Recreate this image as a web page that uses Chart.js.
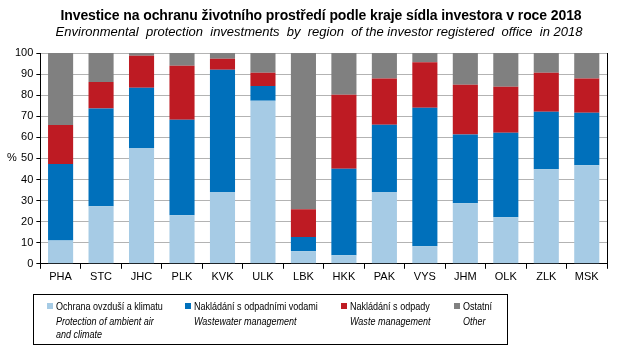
<!DOCTYPE html>
<html>
<head>
<meta charset="utf-8">
<script src="https://cdn.jsdelivr.net/npm/chart.js@4"></script>
<style>
    body { margin: 0; background: #fff; font-family: "Liberation Sans", Arial, sans-serif; }
    #wrap { position: relative; width: 622px; height: 358px; }
    #title { position: absolute; left: 20px; width: 602px; top: 7px; text-align: center; font-size: 14px; font-weight: bold; letter-spacing: -0.1px; color: #000; }
    #subtitle { position: absolute; left: 16px; width: 606px; top: 24px; text-align: center; font-size: 13px; font-style: italic; color: #000; white-space: pre; }
    #pct { position: absolute; left: 7px; top: 151px; font-size: 11px; color: #000; }
    #legend { position: absolute; left: 33px; top: 294px; width: 475px; height: 51px; border: 1px solid #000; box-sizing: border-box; font-size: 11px; color: #000; }
    .item { position: absolute; top: 5px; line-height: 13px; white-space: nowrap; }
    .txt { display: inline-block; transform: scaleX(0.82); transform-origin: left top; }
    .txt i { display: block; margin-top: 2px; }
    .sw { position: absolute; left: -9px; top: 3px; width: 6px; height: 6px; }
</style>
</head>
<body>
<div id="wrap">
    <canvas id="chart" width="622" height="358"></canvas>
    <div id="title">Investice na ochranu životního prostředí podle kraje sídla investora v roce 2018</div>
    <div id="subtitle">Environmental  protection  investments  by  region  of the investor registered  office  in 2018</div>
    <div id="pct">%</div>
    <div id="legend"></div>
</div>
<script>
// Kraje
const regions = ['PHA', 'STC', 'JHC', 'PLK', 'KVK', 'ULK', 'LBK', 'HKK', 'PAK', 'VYS', 'JHM', 'OLK', 'ZLK', 'MSK'];

// Podíly v %
const airClimate = [11.1, 27.3, 54.9, 23.0, 34.1, 77.3, 5.9, 4.0, 34.1, 8.3, 28.7, 22.1, 44.9, 46.8];
const wastewater = [36.2, 46.4, 28.6, 45.3, 58.0, 7.1, 6.8, 41.1, 31.9, 65.7, 32.6, 40.1, 27.2, 24.9];
const waste = [18.6, 12.6, 15.2, 25.7, 5.2, 6.2, 13.2, 35.1, 21.9, 21.6, 23.6, 21.8, 18.5, 16.2];
const other = [34.1, 13.7, 1.3, 6.0, 2.7, 9.4, 74.1, 19.8, 12.1, 4.4, 15.1, 16.0, 9.4, 12.1];

const yTicks = [0, 10, 20, 30, 40, 50, 60, 70, 80, 90, 100];

const seriesCz = ['Ochrana ovzduší a klimatu', 'Nakládání s odpadními vodami', 'Nakládání s odpady', 'Ostatní'];
const seriesEn = ['Protection of ambient air<br>and climate', 'Wastewater management', 'Waste management', 'Other'];
const colors = ['#A6CBE5', '#0070BB', '#BE1B23', '#808080'];
const values = [airClimate, wastewater, waste, other];

// Legenda (HTML)
const legendX = [22, 160, 316, 429];
const legendEl = document.getElementById('legend');
seriesCz.forEach((name, i) => {
    legendEl.innerHTML += `
        <div class="item" style="left:${legendX[i]}px">
            <span class="sw" style="background:${colors[i]}"></span>
            <span class="txt">${name}<i>${seriesEn[i]}</i></span>
        </div>`;
});

// Pravý okraj plochy grafu
const rightBorder = {
    id: 'rightBorder',
    afterDraw(chart) {
        const { ctx, chartArea } = chart;
        ctx.save();
        ctx.strokeStyle = '#000';
        ctx.lineWidth = 1;
        ctx.beginPath();
        ctx.moveTo(Math.round(chartArea.right) + 0.5, chartArea.top);
        ctx.lineTo(Math.round(chartArea.right) + 0.5, chartArea.bottom);
        ctx.stroke();
        ctx.restore();
    }
};

Chart.defaults.font.family = '"Liberation Sans", Arial, sans-serif';
Chart.defaults.color = '#000';

new Chart(document.getElementById('chart'), {
    type: 'bar',
    data: {
        labels: regions,
        datasets: values.map((data, i) => ({
            label: seriesCz[i],
            data: data,
            backgroundColor: colors[i],
            borderWidth: 0,
            barPercentage: 0.62,
            categoryPercentage: 1
        }))
    },
    options: {
        responsive: false,
        animation: false,
        layout: { padding: { left: 12, right: 15, top: 53, bottom: 72 } },
        plugins: {
            legend: { display: false },
            tooltip: { enabled: false }
        },
        scales: {
            x: {
                stacked: true,
                grid: { display: true, drawOnChartArea: false, color: '#000', tickLength: 5 },
                border: { color: '#000' },
                ticks: { font: { size: 11 }, padding: 2 }
            },
            y: {
                stacked: true,
                min: 0,
                max: 100,
                afterBuildTicks: (axis) => { axis.ticks = yTicks.map(v => ({ value: v })); },
                grid: { color: '#B3B3B3', tickColor: '#000', tickLength: 4 },
                border: { color: '#000' },
                ticks: { font: { size: 11 }, padding: 3 }
            }
        }
    },
    plugins: [rightBorder]
});
</script>
</body>
</html>
